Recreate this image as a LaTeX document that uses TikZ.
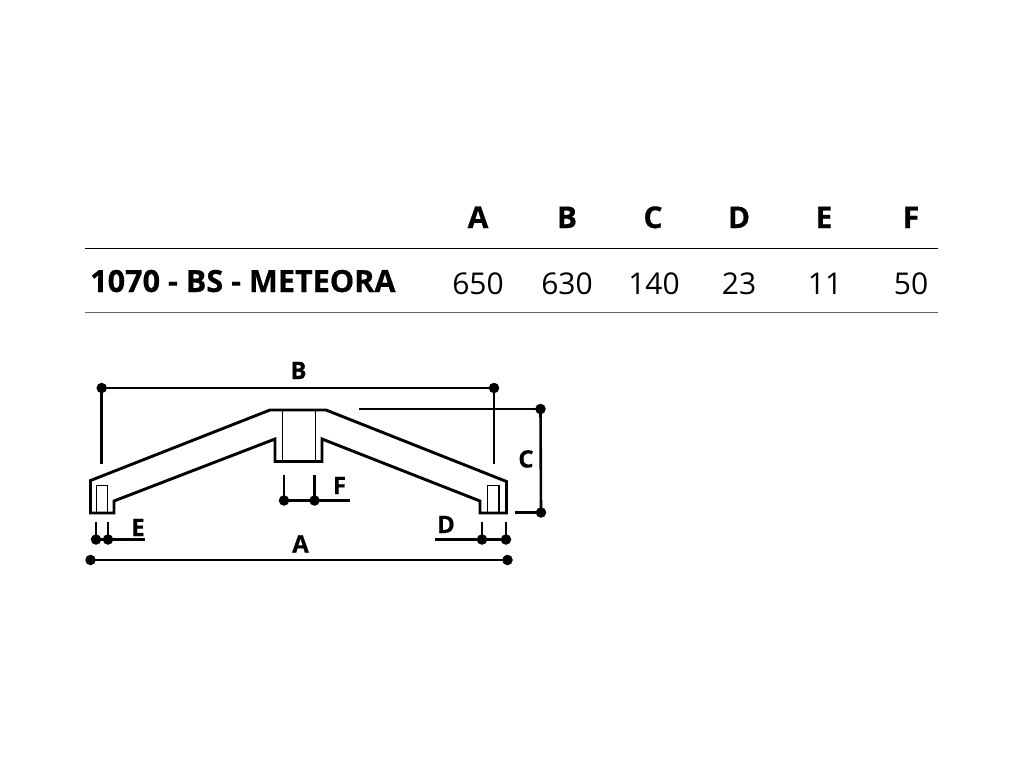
\documentclass[tikz,border=0pt]{standalone}
\usepackage{fontspec}
\setmainfont{Open Sans}[BoldFeatures={FakeBold=0.5}]
\tikzset{
  head/.style={font=\fontsize{30}{30}\selectfont\bfseries,inner sep=0pt,anchor=base},
  val/.style={font=\fontsize{30}{30}\selectfont,inner sep=0pt,anchor=base},
  lab/.style={font=\fontsize{24}{24}\selectfont\bfseries,inner sep=0pt,anchor=base},
  dot/.style={circle,fill=black,inner sep=0pt,minimum size=10.5pt},
  dim/.style={line width=2.6pt},
  prof/.style={line width=2.9pt,line join=miter},
  inner/.style={line width=1.6pt},
}
\begin{document}
\begin{tikzpicture}[x=1pt,y=-1pt]
\useasboundingbox (0,0) rectangle (1024,768);
% table
\coordinate (t1a) at (85,248.5); \coordinate (t1b) at (938,248.5);
\coordinate (t2a) at (85,312.5); \coordinate (t2b) at (938,312.5);
\draw[line width=1.2pt] (t1a) -- (t1b);
\draw[line width=1.2pt,black!60] (t2a) -- (t2b);
\node[head] (hA) at (478,228) {A};
\node[head] (hB) at (567,228) {B};
\node[head] (hC) at (653,228) {C};
\node[head] (hD) at (739,228) {D};
\node[head] (hE) at (824,228) {E};
\node[head] (hF) at (911,228) {F};
\node[head,anchor=base west,font=\fontsize{30.6}{30}\selectfont\bfseries] (name) at (90,292) {1070 - BS - METEORA};
\node[val] (v1) at (478,294) {650};
\node[val] (v2) at (567,294) {630};
\node[val] (v3) at (654,294) {140};
\node[val] (v4) at (739,294) {23};
\node[val] (v5) at (825,294) {11};
\node[val] (v6) at (911,294) {50};
% profile
\draw[prof] (90.5,513) -- (90.5,480.5) -- (270,410) -- (326,410) -- (506.5,481.5) -- (506.5,513)
  -- (480,513) -- (480,501) -- (322,439) -- (322,461.5) -- (275,461.5) -- (275,439) -- (114,501) -- (114,513) -- cycle;
\draw[inner] (96.5,513) -- (96.5,485.5) -- (107.5,485.5) -- (107.5,513);
\draw[inner] (487.5,513) -- (487.5,485.5) -- (499,485.5) -- (499,513);
\draw[inner] (282.5,410) -- (282.5,461.5);
\draw[inner] (315.5,410) -- (315.5,461.5);
% B
\node[dot] (bl) at (101.7,388) {};
\node[dot] (br) at (494,388) {};
\coordinate (blb) at (101.7,464); \coordinate (brb) at (494,464);
\draw[dim] (bl.center) -- (blb);
\draw[dim] (br.center) -- (brb);
\draw[dim] (bl.center) -- (br.center);
\node[lab] (lB) at (298.5,379) {B};
% C
\node[dot] (ct) at (540.5,409) {};
\node[dot] (cb) at (541,512.5) {};
\coordinate (cts) at (359,409); \coordinate (cbs) at (515,512.5);
\draw[dim] (cts) -- (ct.center);
\draw[dim] (cbs) -- (cb.center);
\draw[dim] (ct.center) -- (cb.center);
\node[lab] (lC) at (526,467.5) {C};
% F
\node[dot] (fl) at (284,500.5) {};
\node[dot] (fr) at (314.5,500.5) {};
\coordinate (flt) at (284,475); \coordinate (frt) at (314.5,475); \coordinate (fe) at (350,500.5);
\draw[dim] (flt) -- (fl.center);
\draw[dim] (frt) -- (fr.center);
\draw[dim] (fl.center) -- (fe);
\node[lab] (lF) at (339.5,494) {F};
% E
\node[dot] (el) at (96,539.5) {};
\node[dot] (er) at (108,539.5) {};
\coordinate (elt) at (96,522); \coordinate (ert) at (108,522); \coordinate (ee) at (145,539.5);
\draw[dim] (elt) -- (el.center);
\draw[dim] (ert) -- (er.center);
\draw[dim] (el.center) -- (ee);
\node[lab] (lE) at (138,536) {E};
% D
\node[dot] (dl) at (482,539.5) {};
\node[dot] (dr) at (506,539.5) {};
\coordinate (dlt) at (482,522); \coordinate (drt) at (506,522); \coordinate (de) at (435,539.5);
\draw[dim] (dlt) -- (dl.center);
\draw[dim] (drt) -- (dr.center);
\draw[dim] (de) -- (dr.center);
\node[lab] (lD) at (446,533) {D};
% A
\node[dot] (al) at (90.5,560) {};
\node[dot] (ar) at (507.5,560) {};
\draw[dim] (al.center) -- (ar.center);
\node[lab] (lA) at (300.5,552.5) {A};
\end{tikzpicture}
\end{document}
